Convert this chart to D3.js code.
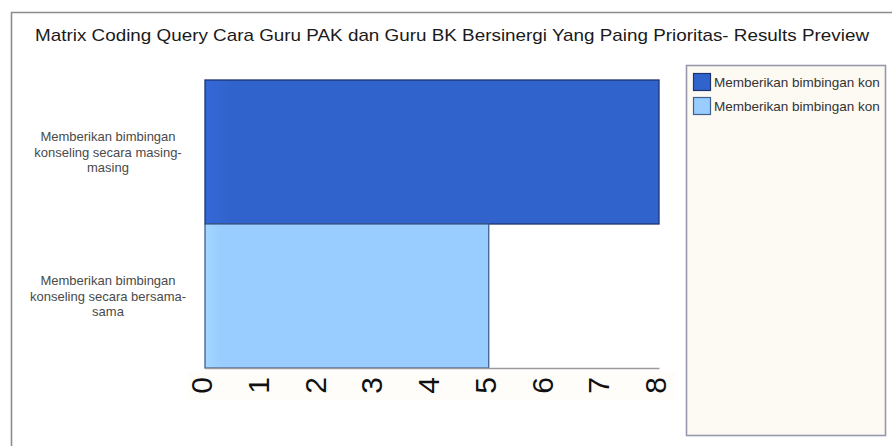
<!DOCTYPE html>
<html>
<head>
<meta charset="utf-8">
<script src="https://cdn.jsdelivr.net/npm/d3@7"></script>
<style>
  html, body { margin: 0; padding: 0; background: #ffffff; }
  svg { display: block; }
  text { font-family: "Liberation Sans", Arial, sans-serif; }
</style>
</head>
<body>
<svg id="chart" width="892" height="446"></svg>
<script>
// Matrix coding query results: one bar per coded node
const title = "Matrix Coding Query Cara Guru PAK dan Guru BK Bersinergi Yang Paing Prioritas- Results Preview";
const categories = [
  "Memberikan bimbingan konseling secara masing-masing",
  "Memberikan bimbingan konseling secara bersama-sama"
];
const values = [8, 5];
const colors = ["#3163cc", "#99ccff"];
const strokes = ["#1d3570", "#3f5f8c"];
const tickValues = [0, 1, 2, 3, 4, 5, 6, 7, 8];

const svg = d3.select("#chart");

// outer panel frame (top and left edges)
svg.append("path")
  .attr("d", "M11.5,446 V12.5 H892")
  .attr("fill", "none")
  .attr("stroke", "#8c8c8c")
  .attr("stroke-width", 1.6);

// title
svg.append("text")
  .attr("x", 452)
  .attr("y", 41)
  .attr("text-anchor", "middle")
  .attr("font-size", 17)
  .attr("fill", "#1a1a1a")
  .attr("textLength", 834)
  .attr("lengthAdjust", "spacingAndGlyphs")
  .text(title);

const x = d3.scaleLinear().domain([0, 8]).range([205, 659]);
const y = d3.scaleBand().domain(categories).range([80, 368]).padding(0);

// soft left-edge highlight on each bar
const defs = svg.append("defs");
colors.forEach((c, i) => {
  const g = defs.append("linearGradient").attr("id", "barGrad" + i)
    .attr("x1", "0%").attr("x2", "100%").attr("y1", "0%").attr("y2", "0%");
  g.append("stop").attr("offset", "0%").attr("stop-color", d3.color(c).brighter(0.15));
  g.append("stop").attr("offset", "6%").attr("stop-color", c);
  g.append("stop").attr("offset", "100%").attr("stop-color", c);
});

// faint band behind the value labels
svg.append("rect")
  .attr("x", 188).attr("y", 371).attr("width", 488).attr("height", 30)
  .attr("fill", "#fffdfa");

// bars
svg.append("g").selectAll("rect")
  .data(categories)
  .join("rect")
  .attr("x", x(0))
  .attr("y", d => y(d))
  .attr("width", (d, i) => x(values[i]) - x(0))
  .attr("height", y.bandwidth())
  .attr("fill", (d, i) => `url(#barGrad${i})`)
  .attr("stroke", (d, i) => strokes[i])
  .attr("stroke-width", 1.3);

// value axis with rotated labels
const xAxis = svg.append("g")
  .attr("transform", "translate(0,368)")
  .call(d3.axisBottom(x).tickValues(tickValues).tickFormat(d3.format("d")).tickSize(0));
xAxis.select(".domain").attr("stroke", "#9a9a9a").attr("stroke-width", 1.5);
xAxis.selectAll("text")
  .attr("transform", "rotate(-90)")
  .attr("text-anchor", "end")
  .attr("x", -9)
  .attr("y", 0)
  .attr("dy", "0.22em")
  .attr("font-size", 30)
  .attr("font-family", "\"Liberation Sans\", Arial, sans-serif")
  .attr("fill", "#111");

// category labels, wrapped at spaces and hyphens
function wrapLines(str, maxW, fontSize) {
  const tokens = str.match(/[^\s-]+-?/g);
  const probe = svg.append("text").attr("font-size", fontSize);
  const lines = [];
  let cur = "";
  tokens.forEach(tok => {
    const joiner = cur === "" ? "" : (cur.endsWith("-") ? "" : " ");
    const trial = cur + joiner + tok;
    probe.text(trial);
    if (cur !== "" && probe.node().getComputedTextLength() > maxW) {
      lines.push(cur);
      cur = tok;
    } else {
      cur = trial;
    }
  });
  if (cur) lines.push(cur);
  probe.remove();
  return lines;
}

// cut a label down to the characters that fit a given width
function fitText(str, maxW, fontSize) {
  const probe = svg.append("text").attr("font-size", fontSize);
  let s = str;
  probe.text(s);
  while (s.length > 1 && probe.node().getComputedTextLength() > maxW) {
    s = s.slice(0, -1);
    probe.text(s);
  }
  probe.remove();
  return s;
}

const catG = svg.append("g");
categories.forEach(c => {
  const lines = wrapLines(c, 160, 13);
  const cy = y(c) + y.bandwidth() / 2;
  const lh = 15.5;
  const t = catG.append("text")
    .attr("text-anchor", "middle")
    .attr("font-size", 13)
    .attr("fill", "#4a4a4a");
  lines.forEach((ln, i) => {
    t.append("tspan")
      .attr("x", 108)
      .attr("y", cy + (i - (lines.length - 1) / 2) * lh)
      .attr("dy", "0.35em")
      .text(ln);
  });
});

// legend
const lg = svg.append("g");
lg.append("rect")
  .attr("x", 686.5).attr("y", 65.5).attr("width", 199).attr("height", 370)
  .attr("fill", "#fdfaf4")
  .attr("stroke", "#9898ac")
  .attr("stroke-width", 1.6);
const items = lg.append("g")
  .selectAll("g").data(categories).join("g")
  .attr("transform", (d, i) => `translate(693,${73 + i * 24})`);
items.append("rect")
  .attr("x", 0.5).attr("y", 0.5).attr("width", 17).attr("height", 17)
  .attr("fill", (d, i) => colors[i])
  .attr("stroke", (d, i) => strokes[i])
  .attr("stroke-width", 1.2);
items.append("text")
  .attr("x", 21)
  .attr("y", 9)
  .attr("dy", "0.35em")
  .attr("font-size", 13.5)
  .attr("fill", "#333")
  .text(d => fitText(d, 168, 13.5));
</script>
</body>
</html>
